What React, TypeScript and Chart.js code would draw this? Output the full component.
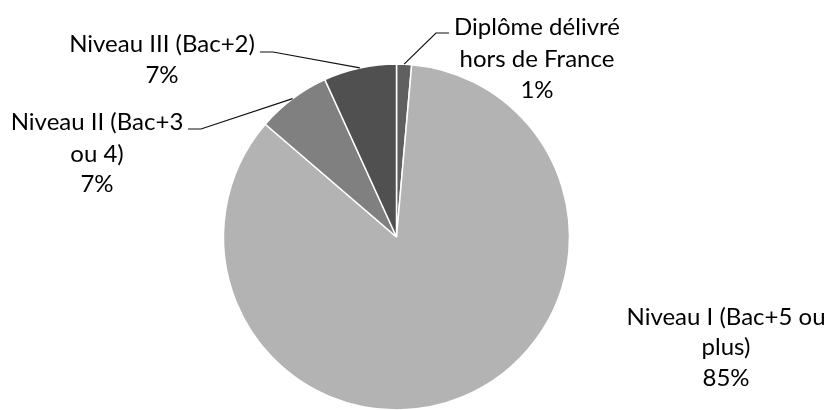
import React, { useEffect, useRef } from "react";
import { Chart, registerables } from "chart.js";

Chart.register(...registerables);

// ---- data ----
const categories = [
  "Diplôme délivré hors de France",
  "Niveau I (Bac+5 ou plus)",
  "Niveau II (Bac+3 ou 4)",
  "Niveau III (Bac+2)",
];
const labelLines = [
  ["Diplôme délivré", "hors de France"],
  ["Niveau I (Bac+5 ou", "plus)"],
  ["Niveau II (Bac+3", "ou 4)"],
  ["Niveau III (Bac+2)"],
];
const shares = [1.4, 84.9, 6.9, 6.8];
const sliceColors = ["#606060", "#b3b3b3", "#808080", "#505050"];

// ---- label layout (positions of the outside labels) ----
const labelLayout = [
  { x: 537, baselines: [35, 67, 98], leader: [[436, 33], [449, 33]] },
  { x: 726, baselines: [325, 355, 386], leader: null },
  { x: 97, baselines: [130, 162, 192], leader: [[201, 129], [188, 129]] },
  { x: 162, baselines: [52, 83], leader: [[273, 52], [260, 52]] },
];

const FONT = "24px Lato, 'Open Sans', sans-serif";

const outsideLabels = {
  id: "outsideLabels",
  afterDraw(chart: any) {
    const ctx = chart.ctx;
    const meta = chart.getDatasetMeta(0);
    const total = shares.reduce((a, b) => a + b, 0);
    ctx.save();
    meta.data.forEach((arc: any, i: number) => {
      const p = arc.getProps(["x", "y", "startAngle", "endAngle", "outerRadius"], true);
      const mid = (p.startAngle + p.endAngle) / 2;
      const lay = labelLayout[i];
      if (lay.leader) {
        const sx = p.x + Math.cos(mid) * p.outerRadius;
        const sy = p.y + Math.sin(mid) * p.outerRadius;
        ctx.beginPath();
        ctx.strokeStyle = "#111";
        ctx.lineWidth = 1.2;
        ctx.moveTo(sx, sy);
        lay.leader.forEach((pt: number[]) => ctx.lineTo(pt[0], pt[1]));
        ctx.stroke();
      }
      const pct = Math.round((shares[i] / total) * 100) + "%";
      const lines = [...labelLines[i], pct];
      ctx.font = FONT;
      ctx.fillStyle = "#000";
      ctx.textAlign = "center";
      ctx.textBaseline = "alphabetic";
      lines.forEach((t, k) => ctx.fillText(t, lay.x, lay.baselines[k]));
    });
    ctx.restore();
  },
};

export default function App() {
  const ref = useRef<HTMLCanvasElement | null>(null);
  useEffect(() => {
    if (!ref.current) return;
    const chart = new Chart(ref.current, {
      type: "pie",
      data: {
        labels: categories,
        datasets: [
          {
            data: shares,
            backgroundColor: sliceColors,
            borderColor: "#ffffff",
            borderWidth: 1.5,
            hoverOffset: 0,
            offset: 0,
          } as any,
        ],
      },
      options: {
        animation: false,
        responsive: false,
        devicePixelRatio: 1,
        radius: 173,
        layout: { padding: { left: 0, right: 33, top: 34, bottom: 0 } },
        plugins: {
          legend: { display: false },
          tooltip: { enabled: false },
        },
      } as any,
      plugins: [outsideLabels],
    });
    return () => chart.destroy();
  }, []);
  return (
    <div
      style={{
        position: "absolute",
        left: 0,
        top: 0,
        width: 826,
        height: 410,
        overflow: "hidden",
        background: "#fff",
      }}
    >
      <canvas ref={ref} width={826} height={440} />
    </div>
  );
}
